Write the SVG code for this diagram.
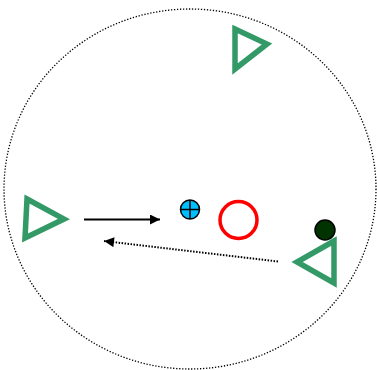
<svg xmlns="http://www.w3.org/2000/svg" width="377" height="370" viewBox="0 0 377 370">
<style>
.tri{fill:none;stroke:#339966;stroke-width:5.5;stroke-linejoin:miter}
.edge{fill:none;stroke:#000;stroke-width:2}
</style>
<defs>
<marker id="ah" viewBox="0 0 10 10" refX="10" refY="5" markerWidth="14" markerHeight="10" markerUnits="userSpaceOnUse" orient="auto"><path d="M0,0 L10,5 L0,10 Z" fill="#000"/></marker>
</defs>
<rect width="377" height="370" fill="#fff"/>
<g id="boundary"><ellipse cx="190" cy="189" rx="186" ry="180" fill="none" stroke="#000" stroke-width="1.3" stroke-dasharray="1.3,1.7"/></g>
<g id="tri-top"><polygon class="tri" points="235,29 267,44 235,69"/></g>
<g id="tri-left"><polygon class="tri" points="27,199 64,219 25,238"/></g>
<g id="tri-right"><polygon class="tri" points="334,241 297,262 334,283"/></g>
<g id="blue"><circle cx="190" cy="209.5" r="9.5" fill="#00BFFF" stroke="#000" stroke-width="1.5"/><path d="M180.5,209.5 H199.5 M190,200 V219" stroke="#000" stroke-width="1.5"/></g>
<g id="red"><circle cx="238.5" cy="220" r="18.5" fill="none" stroke="#f00" stroke-width="3.5"/></g>
<g id="dark"><circle cx="325" cy="230" r="10" fill="#003300" stroke="#000" stroke-width="1.5"/></g>
<g id="connectors">
<path class="edge" d="M84,219.5 H160" marker-end="url(#ah)"/>
<path class="edge" d="M278,261.5 L104,241" stroke-dasharray="1.5,1.5" marker-end="url(#ah)"/>
</g>
</svg>
